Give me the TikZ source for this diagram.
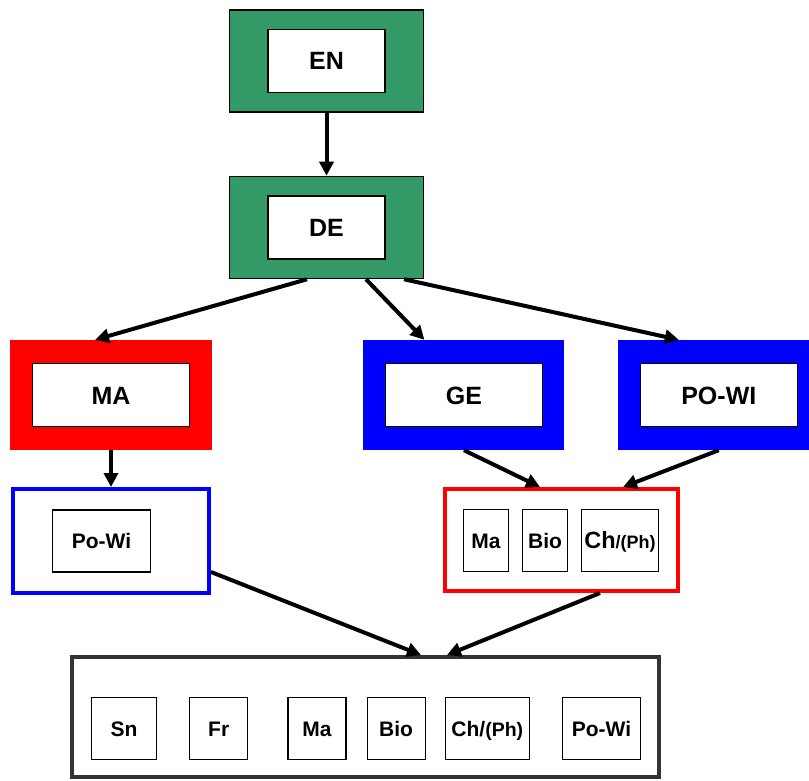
\documentclass[tikz,border=0pt]{standalone}
\usepackage{fontspec}
\setmainfont{Liberation Sans}
\usetikzlibrary{positioning,arrows.meta}
\definecolor{langgreen}{RGB}{51,153,102}
\definecolor{framegray}{RGB}{51,51,51}

\begin{document}
\begin{tikzpicture}[x=1pt,y=-1pt,>={Triangle[length=14pt,width=14pt]},
    langbox/.style={
        rectangle,
        draw=black,
        line width=1.5pt,
        fill=langgreen,
        minimum width=194pt, minimum height=102pt
        },
    profbox/.style={
        rectangle,
        fill=#1,
        minimum width=201pt, minimum height=110pt
        },
    namebox/.style={
    % white label inside a coloured frame
        rectangle,
        draw=black,
        line width=1.5pt,
        fill=white,
        inner sep=0pt,
        text height=18pt, text depth=0pt,
        minimum width=157pt, minimum height=63pt,
        font=\bfseries\fontsize{25pt}{30pt}\selectfont},
    groupbox/.style={
        rectangle,
        draw=#1,
        line width=4pt,
        fill=white},
    subjbox/.style={
        rectangle,
        draw=black,
        line width=1.2pt,
        inner sep=0pt,
        text height=15pt, text depth=0pt,
        minimum width=58pt, minimum height=62pt,
        font=\bfseries\fontsize{21pt}{25pt}\selectfont},
    link/.style={->, line width=4pt}]

    \useasboundingbox (0,0) rectangle (809,781);

    \node (en_frame) [langbox] at (326.5,61) {};
    \node (en) [namebox, minimum width=117pt] at (en_frame) {EN};
    \node (de_frame) [langbox, below=63pt of en_frame] {};
    \node (de) [namebox, minimum width=117pt] at (de_frame) {DE};

    \node (ma_frame) [profbox=red, minimum width=202pt] at (111,395) {};
    \node (ge_frame) [profbox=blue, right=151pt of ma_frame] {};
    \node (pw_frame) [profbox=blue, minimum width=192pt, right=53pt of ge_frame] {};
    \node (ma) [namebox] at (ma_frame) {MA};
    \node (ge) [namebox] at (ge_frame) {GE};
    \node (pw) [namebox] at ([xshift=5pt]pw_frame.center) {PO-WI};

    \node (popw_group) [groupbox=blue, minimum width=196pt, minimum height=104pt] at (111,541) {};
    \node (popw) [subjbox, minimum width=98pt] at (101.5,541) {Po-Wi};

    \node (sci_group) [groupbox=red, minimum width=233pt, minimum height=102pt] at (561.5,540) {};
    \node (sci_ma) [subjbox, minimum width=45pt] at (486,540.5) {Ma};
    \node (sci_bio) [subjbox, minimum width=45pt] at (545,540.5) {Bio};
    \node (sci_ch) [subjbox, minimum width=77pt] at (620,540.5)
        {{\fontsize{23.5pt}{28pt}\selectfont Ch}{\fontsize{18pt}{22pt}\selectfont /(Ph)}};

    \node (all_group) [groupbox=framegray, minimum width=587pt, minimum height=120pt] at (365.5,717) {};
    \node (all_sn) [subjbox, minimum width=65pt] at (124,728.5) {Sn};
    \node (all_fr) [subjbox, right=32pt of all_sn] {Fr};
    \node (all_ma) [subjbox, right=39pt of all_fr] {Ma};
    \node (all_bio) [subjbox, right=20pt of all_ma] {Bio};
    \node (all_ch) [subjbox, minimum width=84pt, right=19pt of all_bio] {Ch/{\fontsize{19.5pt}{23pt}\selectfont(Ph)}};
    \node (all_pw) [subjbox, minimum width=78pt, right=32pt of all_ch] {Po-Wi};

    \path (en_frame) edge[link] (de_frame);

    \draw[link] ([xshift=-19.5pt]de_frame.south) -- ([xshift=-16pt]ma_frame.north);
    \draw[link] ([xshift=39.5pt]de_frame.south) -- ([xshift=-39.5pt]ge_frame.north);
    \draw[link] ([xshift=77.5pt]de_frame.south) -- ([xshift=-35pt]pw_frame.north);

    \path (ma_frame) edge[link] (popw_group);
    \draw[link] (ge_frame.south) -- ([xshift=-21.5pt]sci_group.north);
    \draw[link] ([xshift=5pt]pw_frame.south) -- ([xshift=61.5pt]sci_group.north);

    \draw[link] ([yshift=-31pt]popw_group.east) -- ([xshift=55.5pt]all_group.north);
    \draw[link] ([xshift=38.5pt]sci_group.south) -- ([xshift=81.5pt]all_group.north);
\end{tikzpicture}
\end{document}
